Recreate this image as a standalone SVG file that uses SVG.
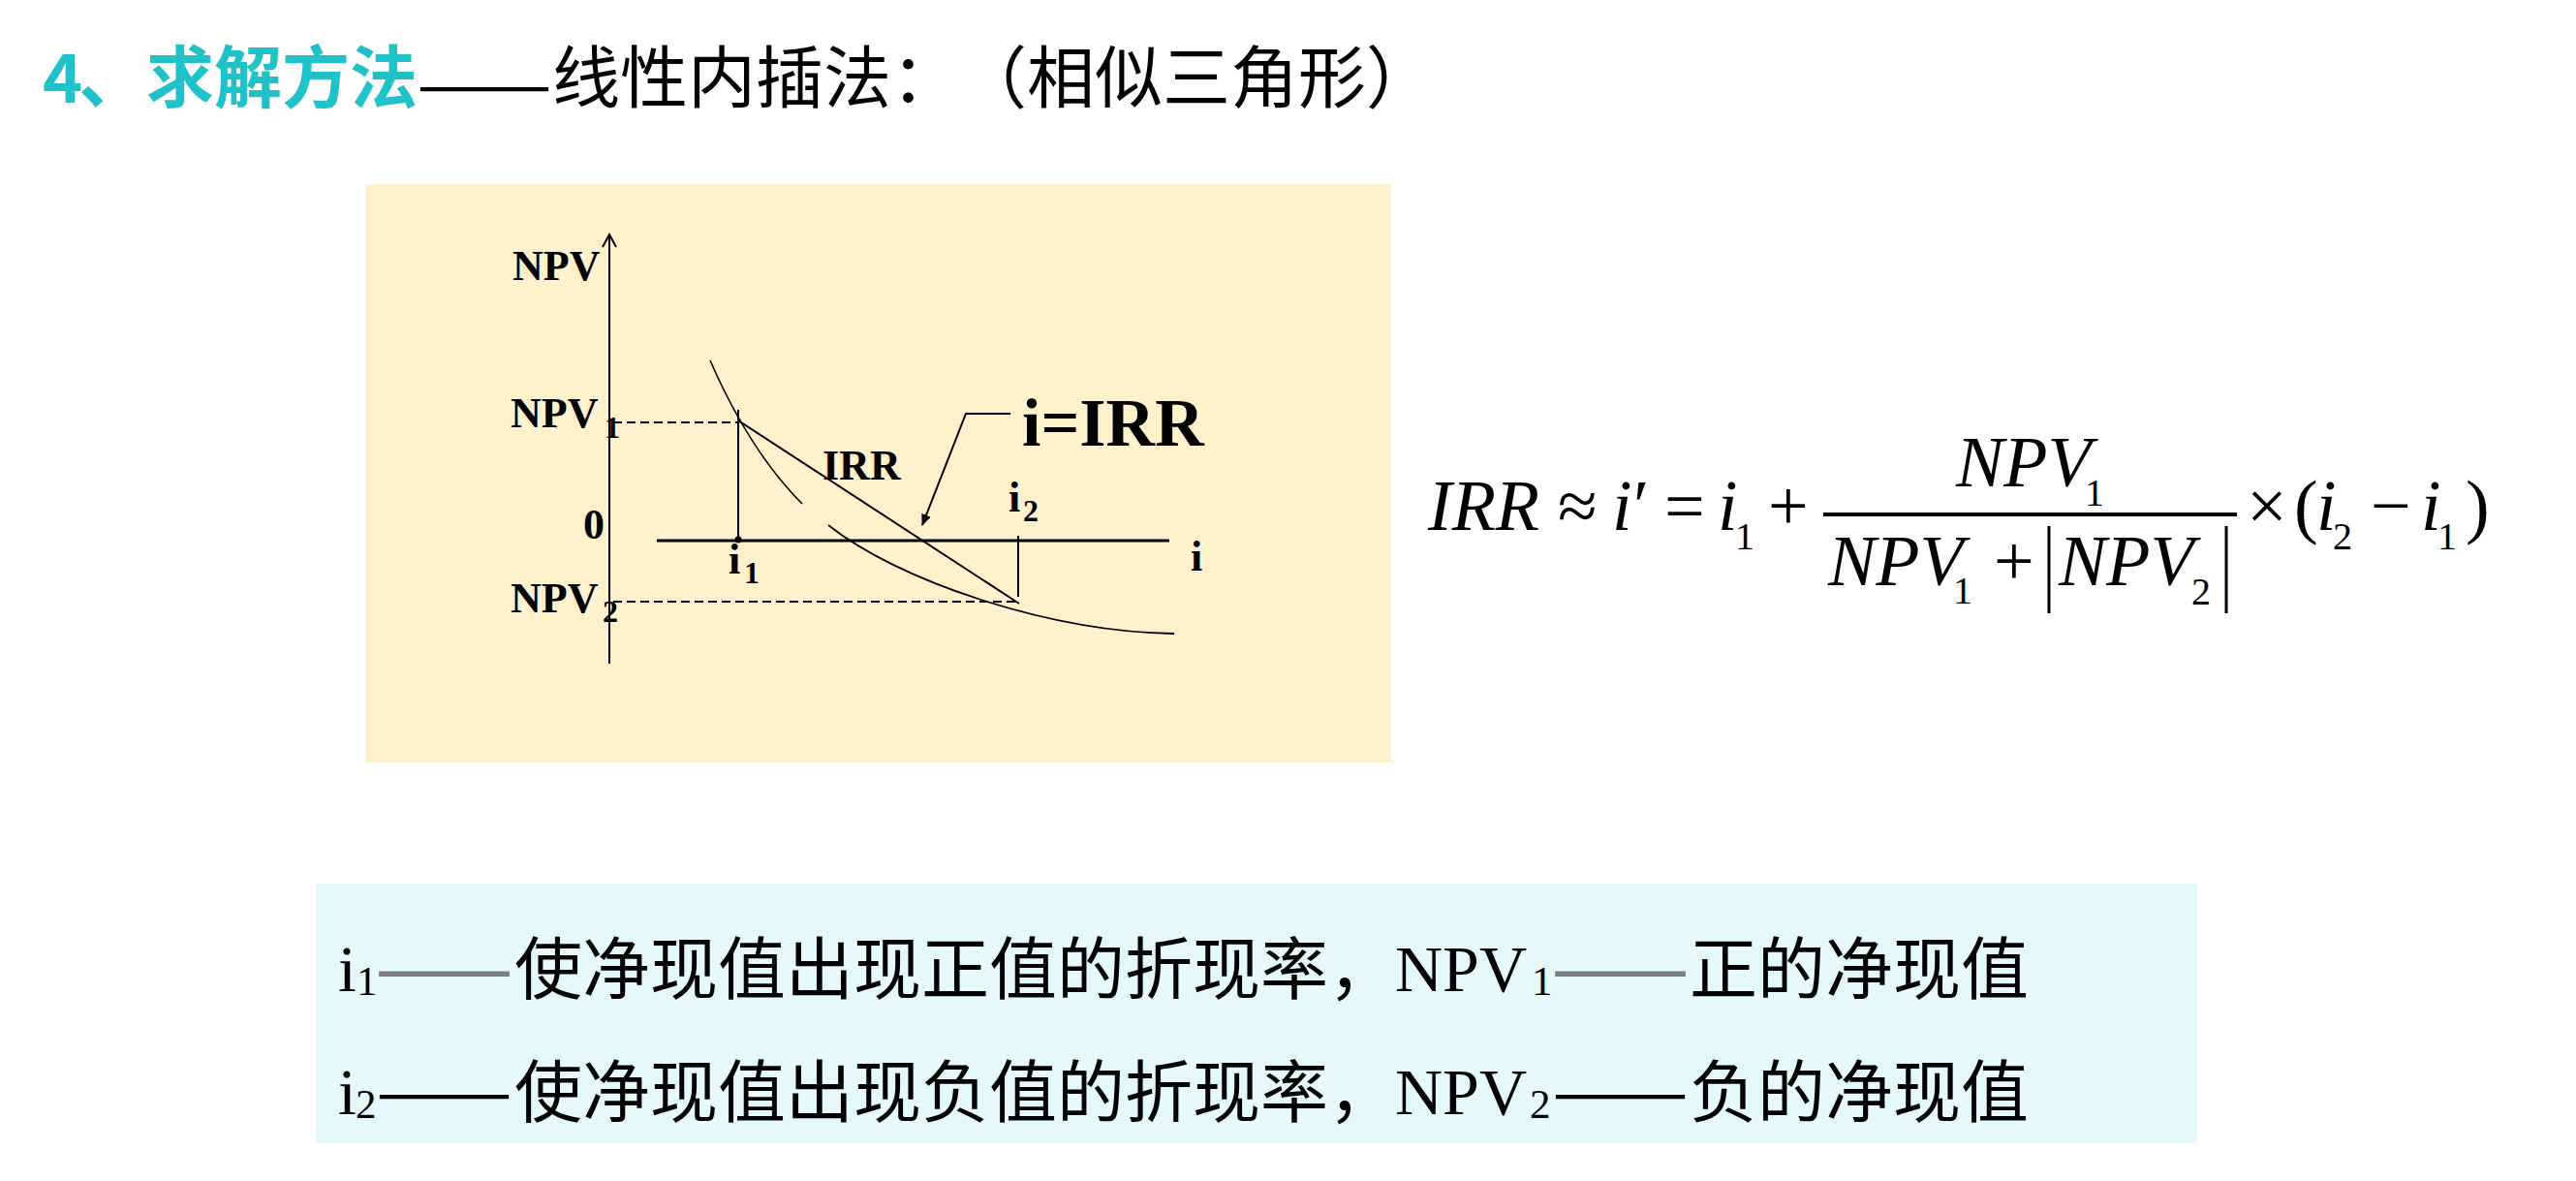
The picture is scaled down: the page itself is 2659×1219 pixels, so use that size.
<svg xmlns="http://www.w3.org/2000/svg" width="2659" height="1219" viewBox="0 0 2659 1219">
<style>
.cjk{font-family:"Noto Sans CJK SC","Noto Sans",sans-serif;font-size:70px;fill:#000}
.tb{font-family:"Liberation Serif",serif;font-weight:bold;font-size:44px;fill:#000}
.tbs{font-family:"Liberation Serif",serif;font-weight:bold;font-size:32px;fill:#000}
.mi{font-family:"Liberation Serif",serif;font-style:italic;font-size:74px;fill:#000}
.mr{font-family:"Liberation Serif",serif;font-size:74px;fill:#000}
.ms{font-family:"Liberation Serif",serif;font-size:40px;fill:#000}
.tr{font-family:"Liberation Serif",serif;font-size:68px;fill:#000}
.trs{font-family:"Liberation Serif",serif;font-size:43px;fill:#000}
.ln{stroke:#000;stroke-width:2;fill:none}
</style>
<defs>
<marker id="ah" viewBox="0 0 12 10" refX="11" refY="5" markerWidth="12" markerHeight="10" markerUnits="userSpaceOnUse" orient="auto">
<path d="M0,0 L12,5 L0,10 z" fill="#000"/>
</marker>
</defs>
<rect width="2659" height="1219" fill="#fff"/>

<g id="title">
<text class="cjk" x="44" y="106" font-weight="bold" style="fill:#20C2C9">4</text>
<text class="cjk" x="81" y="106" font-weight="bold" style="fill:#20C2C9">、求解方法</text>
<text class="cjk" x="430" y="112" textLength="140" lengthAdjust="spacingAndGlyphs">——</text>
<text class="cjk" x="570" y="106">线性内插法：</text>
<text class="cjk" x="990" y="106">（相似三角形）</text>
</g>

<g id="graph-panel">
<rect x="377" y="190" width="1059" height="597" fill="#FFF1CC"/>
</g>

<g id="connectors">
<line class="ln" x1="629" y1="685" x2="629" y2="243"/>
<polyline class="ln" points="622,255 629,242 636,255"/>
<line x1="678" y1="558" x2="1207" y2="558" stroke="#000" stroke-width="3"/>
<line class="ln" x1="633" y1="436" x2="762" y2="436" stroke-dasharray="9 5"/>
<line class="ln" x1="633" y1="621" x2="1052" y2="621" stroke-dasharray="9 5"/>
<line class="ln" x1="762" y1="423" x2="762" y2="557"/>
<circle cx="762" cy="557" r="3.5" fill="#000"/>
<line class="ln" x1="1051" y1="553" x2="1051" y2="616"/>
<line class="ln" x1="762" y1="434" x2="1052" y2="623"/>
<path d="M733,372 Q774,466 828,520" stroke="#000" stroke-width="1.6" fill="none"/>
<path d="M855,542 C925,598 1080,652 1212,654" stroke="#000" stroke-width="1.8" fill="none"/>
<polyline class="ln" points="1043,427 997,427 952,542" stroke-width="1.8" marker-end="url(#ah)"/>
</g>

<g id="graph-labels">
<text class="tb" x="529" y="289">NPV</text>
<text class="tb" x="527" y="441">NPV</text><text class="tbs" x="624" y="452">1</text>
<text class="tb" x="602" y="556">0</text>
<text class="tb" x="527" y="632">NPV</text><text class="tbs" x="622" y="642">2</text>
<text class="tb" x="752" y="592">i</text><text class="tbs" x="768" y="602">1</text>
<text class="tb" x="849" y="495">IRR</text>
<text class="tb" x="1041" y="528">i</text><text class="tbs" x="1056" y="538">2</text>
<text class="tb" x="1229" y="589">i</text>
<text class="tb" x="1055" y="460" style="font-size:70px">i=IRR</text>
</g>

<g id="formula">
<text class="mi" x="1474" y="547">IRR</text>
<text class="mr" x="1608" y="547">≈</text>
<text class="mi" x="1664" y="547">i</text>
<text class="mr" x="1686" y="547">′</text>
<text class="mr" x="1718" y="547">=</text>
<text class="mi" x="1773" y="547">i</text><text class="ms" x="1791" y="567">1</text>
<text class="mr" x="1825" y="547">+</text>
<rect x="1882" y="529" width="427" height="4" fill="#000"/>
<text class="mi" x="2019" y="502">NPV</text><text class="ms" x="2152" y="522">1</text>
<text class="mi" x="1887" y="604">NPV</text><text class="ms" x="2016" y="623">1</text>
<text class="mr" x="2058" y="604">+</text>
<line x1="2115" y1="543" x2="2115" y2="633" stroke="#000" stroke-width="3"/>
<text class="mi" x="2125" y="604">NPV</text><text class="ms" x="2262" y="624">2</text>
<line x1="2298" y1="543" x2="2298" y2="633" stroke="#000" stroke-width="3"/>
<text class="mr" x="2319" y="547">×</text>
<text class="mr" x="2368" y="547">(</text>
<text class="mi" x="2391" y="547">i</text><text class="ms" x="2408" y="567">2</text>
<text class="mr" x="2447" y="547">−</text>
<text class="mi" x="2499" y="547">i</text><text class="ms" x="2516" y="567">1</text>
<text class="mr" x="2545" y="547">)</text>
</g>

<g id="legend">
<rect x="326" y="912" width="1942" height="268" fill="#E6F9F9"/>
<text class="tr" x="349" y="1023">i</text><text class="trs" x="368" y="1027">1</text>
<text class="cjk" x="388" y="1025" textLength="141" lengthAdjust="spacingAndGlyphs" style="fill:#7f7f7f;stroke:#7f7f7f;stroke-width:1.2">——</text>
<text class="cjk" x="531" y="1026">使净现值出现正值的折现率，</text>
<text class="tr" x="1440" y="1023">NPV</text><text class="trs" x="1581" y="1027">1</text>
<text class="cjk" x="1602" y="1025" textLength="141" lengthAdjust="spacingAndGlyphs" style="fill:#7f7f7f;stroke:#7f7f7f;stroke-width:1.2">——</text>
<text class="cjk" x="1744" y="1026">正的净现值</text>

<text class="tr" x="349" y="1150">i</text><text class="trs" x="367" y="1154">2</text>
<text class="cjk" x="388" y="1152" textLength="141" lengthAdjust="spacingAndGlyphs">——</text>
<text class="cjk" x="531" y="1153">使净现值出现负值的折现率，</text>
<text class="tr" x="1440" y="1150">NPV</text><text class="trs" x="1579" y="1154">2</text>
<text class="cjk" x="1602" y="1152" textLength="141" lengthAdjust="spacingAndGlyphs">——</text>
<text class="cjk" x="1744" y="1153">负的净现值</text>
</g>
</svg>
